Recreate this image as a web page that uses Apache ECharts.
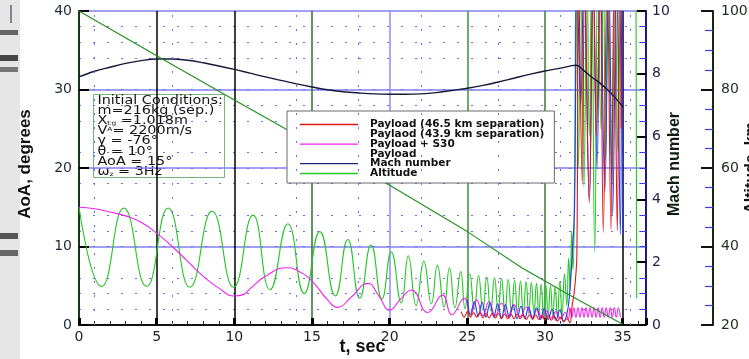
<!DOCTYPE html>
<html><head><meta charset="utf-8">
<script src="https://cdn.jsdelivr.net/npm/echarts@6/dist/echarts.min.js"></script>
<style>html,body{margin:0;padding:0;background:#fff}#c{width:749px;height:359px}</style>
</head><body><div id="c"></div>
<script>
// ---- data ----
const legendNames = ['Payload (46.5 km separation)', 'Paylaod (43.9 km separation)', 'Payload + S30', 'Payload', 'Mach number', 'Altitude'];

// AoA (deg) vs t (s)
const payload465 = [[24.6,1.7],[24.8,1.0],[25.0,1.7],[25.2,1.0],[25.4,1.6],[25.6,1.0],[25.8,1.6],[26.0,0.9],[26.2,1.5],[26.4,0.9],[26.6,1.5],[26.8,0.9],[27.0,1.5],[27.2,0.8],[27.4,1.4],[27.6,0.8],[27.8,1.4],[28.0,0.8],[28.2,1.4],[28.4,0.8],[28.6,1.3],[28.8,0.7],[29.0,1.3],[29.2,0.7],[29.4,1.3],[29.6,0.7],[29.8,1.2],[30.0,0.6],[30.2,1.2],[30.4,0.6],[30.6,1.1],[30.8,0.5],[31.0,1.0],[31.2,0.4],[31.4,0.8],[31.6,0.3],[31.75,2.5],[31.9,4.5],[32.05,9.0],[32.15,45],[32.4,18.0],[32.55,45],[32.85,15.5],[33.1,45],[33.3,24.0],[33.55,45],[33.75,11.8],[34.0,45],[34.25,12.1],[34.45,45],[34.65,12.0],[34.8,45],[34.9,25.0]];

const payload439 = [[25.0,3.2],[25.2,1.3],[25.45,3.0],[25.7,1.1],[25.95,2.9],[26.2,1.0],[26.45,2.8],[26.7,1.0],[26.95,2.7],[27.2,0.9],[27.45,2.6],[27.7,0.9],[27.95,2.5],[28.2,0.8],[28.45,2.4],[28.7,0.8],[28.95,2.3],[29.2,0.8],[29.45,2.2],[29.7,0.7],[29.95,2.1],[30.2,0.7],[30.45,2.0],[30.7,0.6],[30.95,1.9],[31.2,0.5],[31.45,1.8],[31.6,4.5],[31.75,9.0],[31.9,15.0],[32.05,45],[32.3,28.0],[32.5,45],[32.85,15.9],[33.1,45],[33.35,20.0],[33.55,45],[33.85,17.0],[34.1,45],[34.35,14.0],[34.6,45],[34.85,11.5],[34.95,45],[35.0,11.5]];

const payloadS30 = [[0,15.0],[1,14.8],[2,14.4],[3,13.9],[4,13.1],[5,11.7],[6,10.0],[7,8.1],[8,6.2],[9,4.7],[10,3.7],[10.6,3.9],[11,4.6],[12,6.2],[13.35,7.3],[14,7.0],[15,5.6],[16,3.2],[16.65,2.25],[17.5,3.5],[18.6,5.3],[19.3,3.7],[20.0,1.9],[20.7,3.3],[21.4,4.45],[22.45,1.6],[23.4,3.8],[24.0,1.3],[24.8,3.4],[25.2,1.3],[25.6,3.2],[26.0,1.2],[26.4,3.0],[26.8,1.2],[27.2,2.8],[27.6,1.1],[28.0,2.6],[28.4,1.1],[28.8,2.3],[29.2,1.0],[29.5,2.0],[29.8,0.9],[30.1,1.8],[30.4,0.9],[30.7,1.7],[31.0,0.8],[31.3,1.6],[31.5,0.7],[31.6,2.2],[31.73,1.0],[31.86,2.2],[31.99,1.0],[32.12,2.2],[32.25,1.0],[32.38,2.2],[32.51,1.0],[32.64,2.2],[32.77,1.0],[32.9,2.2],[33.03,1.0],[33.16,2.2],[33.29,1.0],[33.42,2.2],[33.55,1.0],[33.68,2.2],[33.81,1.0],[33.94,2.2],[34.07,1.0],[34.2,2.2],[34.33,1.0],[34.46,2.2],[34.59,1.0],[34.72,2.2],[34.85,1.0]];

const payloadOnly = [[0,15.0],[1.46,4.9],[2.89,14.9],[4.35,4.9],[5.74,14.9],[7.14,4.8],[8.57,14.5],[9.95,4.8],[11.2,14.0],[12.3,4.5],[13.45,12.9],[14.5,4.0],[15.5,11.9],[16.5,3.7],[17.3,10.9],[18.07,3.4],[18.8,10.2],[19.5,3.3],[20.1,9.3],[20.75,2.8],[21.2,8.8],[21.7,2.5],[22.2,8.1],[22.68,2.7],[23.07,7.6],[23.5,2.3],[23.85,7.3],[24.2,2.2],[24.57,6.8],[24.85,2.1],[25.15,6.5],[25.45,2.0],[25.72,6.3],[26.0,1.9],[26.25,6.1],[26.5,1.8],[26.75,6.0],[26.98,1.8],[27.2,5.9],[27.42,1.7],[27.63,5.8],[27.84,1.7],[28.04,5.7],[28.23,1.6],[28.42,5.6],[28.6,1.6],[28.78,5.5],[28.95,1.5],[29.12,5.4],[29.29,1.5],[29.45,5.3],[29.6,1.4],[29.75,5.2],[29.9,1.3],[30.05,5.1],[30.2,1.2],[30.35,5.0],[30.5,1.1],[30.65,4.9],[30.8,1.0],[30.95,5.5],[31.1,1.2],[31.25,6.5],[31.4,2.5],[31.52,8.5],[31.62,4.5],[31.72,12.0],[31.8,7.0],[31.9,18.0],[32.0,45],[32.15,20.0],[32.3,45],[32.5,17.6],[32.7,45],[32.85,24.0],[33.0,45],[33.2,9.3],[33.4,45],[33.6,25.0],[33.75,45],[33.9,21.0],[34.05,45],[34.3,18.0],[34.5,45],[34.7,22.0],[34.9,45],[35.3,60],[35.85,50],[35.9,3.4]];

// Mach number vs t
const machNumber = [[0,7.9],[1,8.08],[2,8.21],[3,8.33],[4,8.42],[5,8.47],[6,8.47],[7,8.43],[8,8.35],[9,8.25],[10,8.14],[11,8.02],[12,7.9],[13,7.79],[14,7.68],[15,7.58],[16,7.49],[17,7.43],[18,7.39],[19,7.36],[20,7.35],[21,7.35],[22,7.36],[23,7.4],[24,7.47],[25,7.54],[26,7.63],[27,7.74],[28,7.86],[29,7.98],[30,8.09],[31,8.18],[32,8.27],[32.5,8.1],[33,7.9],[33.5,7.72],[34,7.5],[34.5,7.25],[35,6.95]];

// Altitude (km) vs t
const altitude = [[0,100],[5,88.6],[10,77.3],[15,66.2],[20,55.6],[25,43.8],[28.5,34.6],[31.6,27.6],[35,20.2]];

// dotted vertical reference lines (s)
const dottedTimes = [1, 6, 14, 18, 22, 27, 31, 35.5];

const xMajorColors = ['#000000','#000000','#000000','#2f6f2f','#8c8cf5','#3f8f3f','#3a7a3a','#000000','rgba(0,0,0,0)'];

const FONT = 'DejaVu Sans';
const chart = echarts.init(document.getElementById('c'), null, {renderer: 'canvas'});

function lineSeries(name, data, color, yIdx, width, smooth) {
  return {
    name, type: 'line', data, yAxisIndex: yIdx, xAxisIndex: 0,
    symbol: 'none', showSymbol: false, smooth: smooth, clip: true,
    lineStyle: {color, width}, itemStyle: {color}, animation: false, z: 3
  };
}

const option = {
  animation: false,
  backgroundColor: '#ffffff',
  grid: {left: 79, right: 103, top: 11, bottom: 34, containLabel: false, outerBoundsMode: 'none'},
  legend: {
    orient: 'vertical', left: 287, top: 111,
    icon: 'rect', itemWidth: 58, itemHeight: 1.3, itemGap: -1.2,
    padding: [8, 10, 4, 13],
    backgroundColor: '#ffffff', borderColor: '#6a6a6a', borderWidth: 1,
    selectedMode: false,
    textStyle: {fontFamily: FONT, fontWeight: 'bold', fontSize: 10.5, color: '#111', padding: [0, 0, 0, 7]},
    data: [
      {name: legendNames[0], itemStyle: {color: '#e01414'}},
      {name: legendNames[1], itemStyle: {opacity: 0}},
      {name: legendNames[2], itemStyle: {color: '#ee22ee'}},
      {name: legendNames[3], itemStyle: {opacity: 0}},
      {name: legendNames[4], itemStyle: {color: '#1c2a6a'}},
      {name: legendNames[5], itemStyle: {color: '#22cc22'}}
    ]
  },
  xAxis: [{
    type: 'value', min: 0, max: 36.5, interval: 5,
    name: 't, sec', nameLocation: 'middle', nameGap: 13, nameMoveOverlap: false,
    nameTextStyle: {fontFamily: 'Liberation Sans', fontWeight: 'bold', fontSize: 18, color: '#111'},
    axisLine: {show: true, onZero: false, lineStyle: {color: '#111', width: 2}},
    axisTick: {show: true, inside: true, length: 7, lineStyle: {color: '#000', width: 3}},
    minorTick: {show: true, splitNumber: 5, length: 4, lineStyle: {color: '#222', width: 1}},
    axisLabel: {fontFamily: FONT, fontSize: 14, color: '#222', margin: 5,
      formatter: v => (v % 5 === 0 ? String(v) : '')},
    splitLine: {show: true, lineStyle: {color: xMajorColors, width: 1.5}}
  }],
  yAxis: [{
    type: 'value', min: 0, max: 40, interval: 10, position: 'left',
    name: 'AoA, degrees', nameLocation: 'middle', nameGap: 45, nameRotate: 90, nameMoveOverlap: false,
    nameTextStyle: {fontFamily: 'Liberation Sans', fontWeight: 'bold', fontSize: 17, color: '#111', padding: [0, 0, 0, 8]},
    axisLine: {show: true, lineStyle: {color: '#143814', width: 2}},
    axisTick: {show: true, inside: true, length: 10, lineStyle: {color: '#000', width: 2}},
    axisLabel: {fontFamily: FONT, fontSize: 14, color: '#1b2b3b', margin: 7},
    splitLine: {show: true, lineStyle: {color: '#8080f2', width: 1.5}}
  }, {
    type: 'value', min: 0, max: 10, interval: 2, position: 'right',
    name: 'Mach number', nameLocation: 'middle', nameGap: 21, nameRotate: 90, nameMoveOverlap: false,
    nameTextStyle: {fontFamily: 'Liberation Sans', fontWeight: 'bold', fontSize: 16, color: '#0f1f0f', padding: [0, 0, 0, 8]},
    axisLine: {show: true, lineStyle: {color: '#1a1a7a', width: 2}},
    axisTick: {show: true, inside: true, length: 9, lineStyle: {color: '#000', width: 2}},
    minorTick: {show: true, splitNumber: 4, length: 6, lineStyle: {color: '#3a3aee', width: 1}},
    axisLabel: {fontFamily: FONT, fontSize: 14, color: '#22224a', margin: 6},
    splitLine: {show: false},
    minorSplitLine: {show: true, lineStyle: {color: '#6a6af0', width: 1, type: [2, 12]}}
  }, {
    type: 'value', min: 20, max: 100, interval: 20, position: 'right', offset: 67,
    name: 'Altitude, km', nameLocation: 'middle', nameGap: 31, nameRotate: 90, nameMoveOverlap: false,
    nameTextStyle: {fontFamily: 'Liberation Sans', fontWeight: 'bold', fontSize: 16, color: '#111'},
    axisLine: {show: true, lineStyle: {color: '#102a10', width: 2}},
    axisTick: {show: true, inside: true, length: 12, lineStyle: {color: '#111', width: 2}},
    minorTick: {show: true, splitNumber: 4, length: 8, lineStyle: {color: '#3a3aee', width: 1.2}},
    axisLabel: {fontFamily: FONT, fontSize: 14, color: '#1a2f1a', margin: 8},
    splitLine: {show: false}
  }],
  series: [
    lineSeries(legendNames[3], payloadOnly, '#22c622', 0, 1.1, 0.5),
    lineSeries(legendNames[2], payloadS30, '#ee22ee', 0, 1.1, 0.5),
    lineSeries(legendNames[1], payload439, '#2a3ae6', 0, 1.1, 0.4),
    lineSeries(legendNames[0], payload465, '#e01414', 0, 1.1, 0.4),
    Object.assign(lineSeries(legendNames[4], machNumber, '#15183a', 1, 1.4, 0.4), {
      markLine: {
        silent: true, symbol: 'none', label: {show: false}, animation: false,
        lineStyle: {color: '#6a6af0', width: 1, type: [2, 12]},
        data: dottedTimes.map(t => ({xAxis: t}))
      }
    }),
    lineSeries(legendNames[5], altitude, '#1f8f1f', 2, 1.1, false)
  ],
  graphic: [
    {type: 'rect', left: 0, top: 0, z: 0, shape: {width: 20, height: 359}, style: {fill: '#e6e6e6'}},
    {type: 'rect', left: 0, top: 30, z: 0, shape: {width: 18, height: 5}, style: {fill: '#666'}},
    {type: 'rect', left: 0, top: 55, z: 0, shape: {width: 18, height: 6}, style: {fill: '#444'}},
    {type: 'rect', left: 0, top: 67, z: 0, shape: {width: 18, height: 5}, style: {fill: '#777'}},
    {type: 'rect', left: 0, top: 233, z: 0, shape: {width: 18, height: 6}, style: {fill: '#555'}},
    {type: 'rect', left: 0, top: 250, z: 0, shape: {width: 18, height: 6}, style: {fill: '#666'}},
    {type: 'line', z: 0, shape: {x1: 11, y1: 5, x2: 11, y2: 23}, style: {stroke: '#223', lineWidth: 1}},
    {
      type: 'group', left: 93, top: 94, z: 100,
      children: [
        {type: 'rect', shape: {x: 0, y: 0, width: 131, height: 83}, style: {fill: '#fff', stroke: '#7ab27a', lineWidth: 1}},
        {type: 'text', x: 4, y: 1, scaleX: 1.25, originX: 0, style: {
          text: 'Initial Conditions:\nm=216kg (sep.)\nX{sub|cg} =1.018m\nV{sup|A}= 2200m/s\nγ = -76°\nθ = 10°\nAoA = 15°\nω{sub|z} = 3Hz',
          font: '11.5px "DejaVu Sans"', fill: '#151515', lineHeight: 10.2,
          rich: {sub: {fontSize: 6, verticalAlign: 'bottom', fill: '#151515', fontFamily: FONT},
                 sup: {fontSize: 6, verticalAlign: 'top', fill: '#151515', fontFamily: FONT}}
        }}
      ]
    }
  ]
};
chart.setOption(option);
</script>
</body></html>
